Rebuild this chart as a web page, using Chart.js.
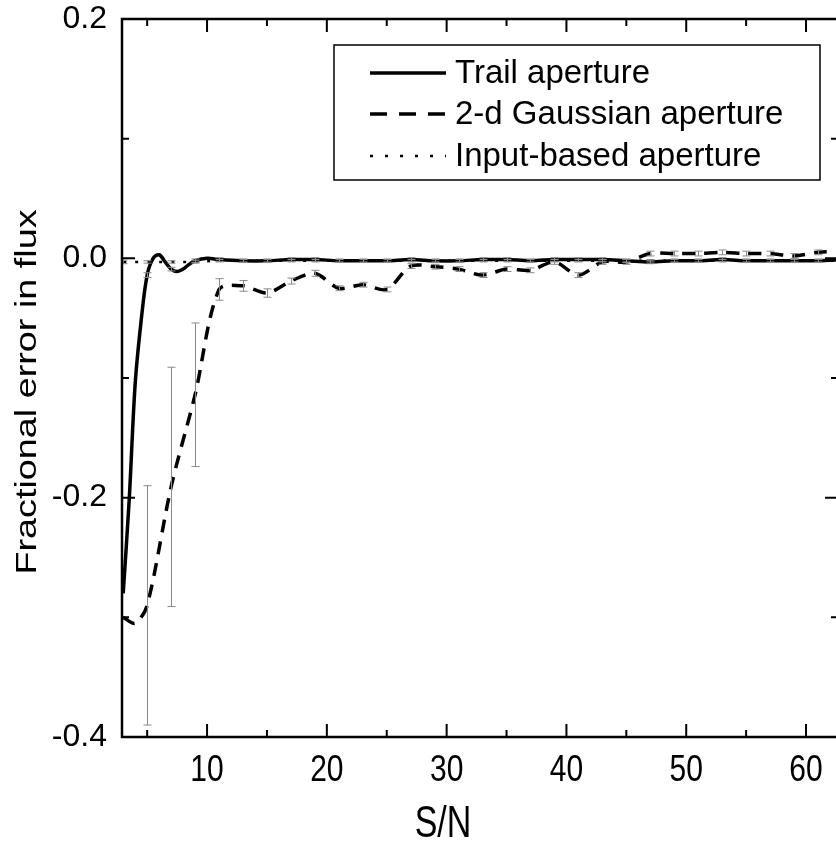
<!DOCTYPE html>
<html>
<head>
<meta charset="utf-8">
<script src="https://cdn.jsdelivr.net/npm/chart.js@4.4.1/dist/chart.umd.min.js"></script>
<style>
  html, body { margin: 0; padding: 0; background: #fff; overflow: hidden; }
  #wrap { position: relative; width: 840px; height: 848px; }
</style>
</head>
<body>
<div id="wrap"><canvas id="c"></canvas></div>
<script>
  var FONT = "'Liberation Sans', Arial, Helvetica, sans-serif";

  // ===== data =====
  var seriesNames = ["Trail aperture", "2-d Gaussian aperture", "Input-based aperture"];

  // Trail aperture (solid)
  var trailX = [3, 3.5, 4, 4.5, 5, 5.5, 6, 6.5, 7, 7.5, 8, 8.5, 9, 10, 11, 13, 15, 17, 19, 21, 23, 25, 27, 29, 31, 33, 35, 37, 39, 41, 43, 45, 47, 49, 51, 53, 55, 57, 59, 61, 63];
  var trailY = [-0.280, -0.202, -0.105, -0.052, -0.014, 0.000, 0.003, -0.003, -0.009, -0.011, -0.009, -0.005, -0.002, 0.000, -0.001, -0.002, -0.002, -0.001, -0.001, -0.002, -0.002, -0.002, -0.001, -0.002, -0.002, -0.001, -0.001, -0.002, -0.001, -0.001, -0.001, -0.002, -0.003, -0.002, -0.002, -0.001, -0.002, -0.002, -0.002, -0.002, -0.001];
  var trailErr = [null, null, null, null, 0.002, null, null, null, 0.0015, null, null, null, 0.0015, null, 0.0015, 0.0015, 0.0015, 0.0015, 0.0015, 0.0015, 0.0015, 0.0015, 0.0015, 0.0015, 0.0015, 0.0015, 0.0015, 0.0015, 0.0015, 0.0015, 0.0015, 0.0015, 0.0015, 0.0015, 0.0015, 0.0015, 0.0015, 0.0015, 0.0015, 0.0015, 0.0015];

  // 2-d Gaussian aperture (dashed)
  var gaussX = [3, 4, 5, 7, 9, 11, 13, 15, 17, 19, 21, 23, 25, 27, 29, 31, 33, 35, 37, 39, 41, 43, 45, 47, 49, 51, 53, 55, 57, 59, 61, 63];
  var gaussY = [-0.300, -0.305, -0.290, -0.191, -0.114, -0.026, -0.023, -0.029, -0.019, -0.0125, -0.025, -0.022, -0.026, -0.0065, -0.007, -0.009, -0.014, -0.009, -0.010, -0.003, -0.014, -0.003, -0.003, 0.004, 0.004, 0.004, 0.005, 0.004, 0.004, 0.002, 0.005, 0.006];
  var gaussErr = [null, null, 0.100, 0.100, 0.060, 0.009, 0.0045, 0.0035, 0.0025, 0.0025, 0.002, 0.002, 0.002, 0.002, 0.002, 0.002, 0.002, 0.002, 0.002, 0.002, 0.002, 0.002, 0.002, 0.002, 0.002, 0.002, 0.002, 0.002, 0.002, 0.002, 0.002, 0.002];

  // Input-based aperture (dotted)
  var inputX = [3, 5, 7, 9, 11, 13, 15, 17, 19, 21, 23, 25, 27, 29, 31, 33, 35, 37, 39, 41, 43, 45, 47, 49, 51, 53, 55, 57, 59, 61, 63];
  var inputY = [-0.003, -0.003, -0.003, -0.003, -0.002, -0.002, -0.002, -0.002, -0.002, -0.002, -0.002, -0.002, -0.002, -0.002, -0.002, -0.002, -0.002, -0.002, -0.002, -0.002, -0.002, -0.002, -0.002, -0.002, -0.002, -0.002, -0.002, -0.002, -0.002, -0.002, -0.002];
  var inputErr = [0.0015, 0.001, 0.001, 0.001, 0.001, 0.001, 0.001, 0.001, 0.001, 0.001, 0.001, 0.001, 0.001, 0.001, 0.001, 0.001, 0.001, 0.001, 0.001, 0.001, 0.001, 0.001, 0.001, 0.001, 0.001, 0.001, 0.001, 0.001, 0.001, 0.001, 0.001];

  var xTicks = [10, 20, 30, 40, 50, 60];
  var xMinor = [5, 15, 25, 35, 45, 55];
  var yTicks = [-0.4, -0.2, 0.0, 0.2];
  var yMinor = [-0.3, -0.1, 0.1];
  var xTitle = "S/N";
  var yTitle = "Fractional error in flux";

  function pts(xs, ys) { return xs.map(function (x, i) { return { x: x, y: ys[i] }; }); }

  // grey error bars, through the chart scales
  var errorBars = {
    id: "errorBars",
    afterDatasetsDraw: function (chart) {
      var ctx = chart.ctx, sx = chart.scales.x, sy = chart.scales.y, a = chart.chartArea;
      ctx.save();
      ctx.beginPath(); ctx.rect(a.left, a.top, a.right - a.left, a.bottom - a.top); ctx.clip();
      ctx.strokeStyle = "#8a8a8a"; ctx.lineWidth = 1;
      chart.data.datasets.forEach(function (ds) {
        (ds.err || []).forEach(function (e, i) {
          if (e == null) return;
          var p = ds.data[i];
          var px = Math.round(sx.getPixelForValue(p.x)) + 0.5;
          var y1 = sy.getPixelForValue(p.y + e), y2 = sy.getPixelForValue(p.y - e);
          ctx.beginPath();
          ctx.moveTo(px, y1); ctx.lineTo(px, y2);
          ctx.moveTo(px - 4, y1); ctx.lineTo(px + 4, y1);
          ctx.moveTo(px - 4, y2); ctx.lineTo(px + 4, y2);
          ctx.stroke();
        });
      });
      ctx.restore();
    }
  };

  // frame with inward ticks, x labels, titles, legend box
  var frame = {
    id: "frame",
    afterDraw: function (chart) {
      var ctx = chart.ctx, sx = chart.scales.x, sy = chart.scales.y, a = chart.chartArea;
      ctx.save();
      ctx.strokeStyle = "#000"; ctx.lineWidth = 2.5; ctx.lineCap = "butt";
      ctx.strokeRect(a.left, a.top, a.right - a.left, a.bottom - a.top);
      function tx(v, len) {
        var p = sx.getPixelForValue(v);
        ctx.beginPath();
        ctx.moveTo(p, a.bottom); ctx.lineTo(p, a.bottom - len);
        ctx.moveTo(p, a.top); ctx.lineTo(p, a.top + len);
        ctx.stroke();
      }
      function ty(v, len) {
        var p = sy.getPixelForValue(v);
        ctx.beginPath();
        ctx.moveTo(a.left, p); ctx.lineTo(a.left + len, p);
        ctx.moveTo(a.right, p); ctx.lineTo(a.right - len, p);
        ctx.stroke();
      }
      ctx.lineWidth = 2;
      xTicks.forEach(function (v) { tx(v, 13); });
      xMinor.forEach(function (v) { tx(v, 7); });
      yTicks.forEach(function (v) { ty(v, 13); });
      yMinor.forEach(function (v) { ty(v, 7); });

      // x tick labels (tall, narrow look of the original)
      ctx.fillStyle = "#000";
      ctx.textAlign = "center"; ctx.textBaseline = "middle";
      ctx.font = "30px " + FONT;
      xTicks.forEach(function (v) {
        ctx.save();
        ctx.translate(sx.getPixelForValue(v), 771);
        ctx.scale(1, 1.22);
        ctx.fillText(String(v), 0, 0);
        ctx.restore();
      });
      // x title
      ctx.save();
      ctx.translate(443, 825);
      ctx.scale(1, 1.3);
      ctx.font = "34px " + FONT;
      ctx.fillText(xTitle, 0, 0);
      ctx.restore();
      // y title
      ctx.save();
      ctx.translate(28, 392);
      ctx.rotate(-Math.PI / 2);
      ctx.scale(1.28, 1);
      ctx.font = "29.5px " + FONT;
      ctx.fillText(yTitle, 0, 0);
      ctx.restore();

      // legend
      var bx = 334, by = 45, bw = 486, bh = 135;
      ctx.fillStyle = "#fff";
      ctx.fillRect(bx, by, bw, bh);
      ctx.strokeStyle = "#000"; ctx.lineWidth = 1.5;
      ctx.strokeRect(bx, by, bw, bh);
      var rows = [73, 114, 156];
      var dashes = [[], [17, 12], [3, 12]];
      ctx.font = "33px " + FONT;
      ctx.textAlign = "left";
      ctx.fillStyle = "#000";
      seriesNames.forEach(function (name, i) {
        ctx.beginPath();
        ctx.setLineDash(dashes[i]);
        ctx.lineWidth = i === 2 ? 2.5 : 3.5;
        ctx.moveTo(370, rows[i]); ctx.lineTo(446, rows[i]);
        ctx.stroke();
        ctx.setLineDash([]);
        ctx.fillText(name, 455, rows[i] + 1);
      });
      ctx.restore();
    }
  };

  new Chart(document.getElementById("c"), {
    type: "line",
    data: {
      datasets: [
        { label: seriesNames[0], data: pts(trailX, trailY), err: trailErr, borderColor: "#000", borderWidth: 3.5, tension: 0.35, pointRadius: 0, fill: false },
        { label: seriesNames[1], data: pts(gaussX, gaussY), err: gaussErr, borderColor: "#000", borderWidth: 3.5, borderDash: [13, 9], tension: 0.3, pointRadius: 0, fill: false },
        { label: seriesNames[2], data: pts(inputX, inputY), err: inputErr, borderColor: "#000", borderWidth: 2.5, borderDash: [3, 9], tension: 0.4, pointRadius: 0, fill: false }
      ]
    },
    options: {
      responsive: true, maintainAspectRatio: false, animation: false, devicePixelRatio: 1,
      layout: { padding: { top: 19, right: 2, left: 0, bottom: 0 } },
      plugins: { legend: { display: false }, tooltip: { enabled: false } },
      scales: {
        x: {
          type: "linear", min: 2.9, max: 62.67,
          grid: { display: false }, border: { display: false },
          ticks: { display: false },
          afterBuildTicks: function (s) { s.ticks = xTicks.map(function (v) { return { value: v }; }); },
          afterFit: function (s) { s.height = 111; s.paddingLeft = 0; s.paddingRight = 0; }
        },
        y: {
          min: -0.4, max: 0.2,
          grid: { display: false, drawTicks: false }, border: { display: false },
          ticks: { color: "#000", padding: 15, font: { family: FONT, size: 32 }, callback: function (v) { return Number(v).toFixed(1); } },
          afterBuildTicks: function (s) { s.ticks = yTicks.map(function (v) { return { value: v }; }); },
          afterFit: function (s) { s.width = 122; s.paddingTop = 0; s.paddingBottom = 0; }
        }
      }
    },
    plugins: [errorBars, frame]
  });
</script>
</body>
</html>
